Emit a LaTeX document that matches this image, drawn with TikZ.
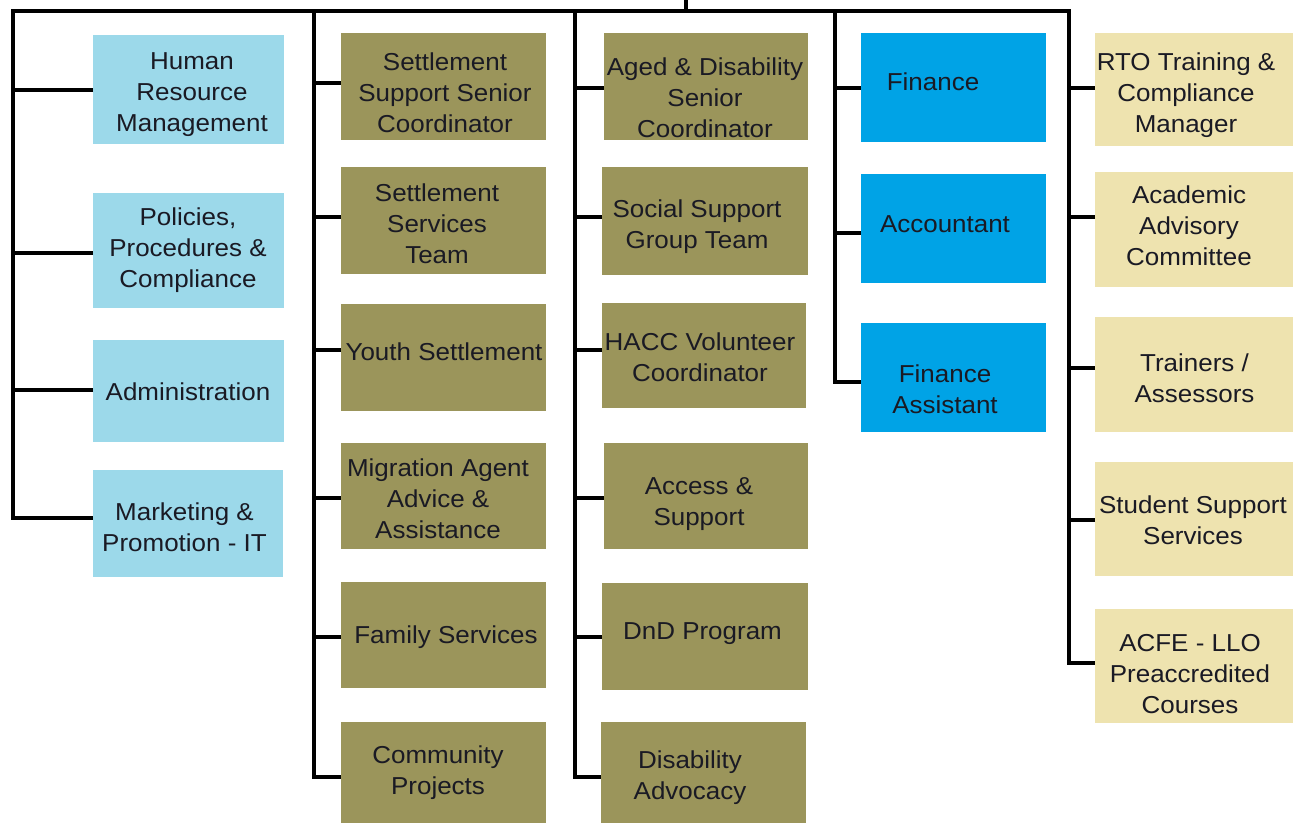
\documentclass[tikz,border=0pt]{standalone}
\usepackage{fontspec}
\setmainfont{Liberation Sans}[FakeStretch=1.06]
\definecolor{cLB}{HTML}{9CD9EA}
\definecolor{cOL}{HTML}{9B955B}
\definecolor{cBL}{HTML}{00A3E6}
\definecolor{cBE}{HTML}{EEE3AF}
\definecolor{cTX}{HTML}{1A1A24}
\newcommand\hbranch[3]{\draw[conn] ([yshift=#3pt]#1.west) coordinate (b-#1) -- (b-#1 -| #2);}
\begin{document}
\begin{tikzpicture}[x=1pt,y=-1pt,
 box/.style={rectangle, draw=none, inner sep=0pt, outer sep=0pt},
 lb/.style={box, fill=cLB, minimum width=191pt},
 ol/.style={box, fill=cOL, minimum width=205pt},
 bl/.style={box, fill=cBL, minimum width=185pt},
 be/.style={box, fill=cBE, minimum width=198pt},
 txt/.style={font=\fontsize{24.5}{31}\selectfont, align=center, text=cTX, inner sep=0pt, yshift=-2pt},
 conn/.style={line width=4pt, draw=black, line join=miter}]
\useasboundingbox[fill=white] (0,0) rectangle (1301,823);

% column 1
\node[lb, minimum height=109pt] (hrm) at (188.5,89.5) {};
\node[lb, minimum height=115pt] (pol) at (188.5,250.5) {};
\node[lb, minimum height=102pt] (adm) at (188.5,391) {};
\node[lb, minimum width=190pt, minimum height=107pt] (mkt) at (188,523.5) {};
% column 2
\node[ol, minimum height=107pt] (sssc) at (443.5,86.5) {};
\node[ol, minimum height=107pt] (sst) at (443.5,220.5) {};
\node[ol, minimum height=107pt] (ys) at (443.5,357.5) {};
\node[ol, minimum height=106pt] (mig) at (443.5,496) {};
\node[ol, minimum height=106pt] (fam) at (443.5,635) {};
\node[ol, minimum height=101pt] (com) at (443.5,772.5) {};
% column 3
\node[ol, minimum width=204pt, minimum height=107pt] (ads) at (706,86.5) {};
\node[ol, minimum width=206pt, minimum height=108pt] (ssg) at (705,221) {};
\node[ol, minimum width=204pt, minimum height=105pt] (hacc) at (704,355.5) {};
\node[ol, minimum width=204pt, minimum height=106pt] (acc) at (706,496) {};
\node[ol, minimum width=206pt, minimum height=107pt] (dnd) at (705,636.5) {};
\node[ol, minimum width=205pt, minimum height=101pt] (dis) at (703.5,772.5) {};
% column 4
\node[bl, minimum height=109pt] (fin) at (953.5,87.5) {};
\node[bl, minimum height=109pt] (acct) at (953.5,228.5) {};
\node[bl, minimum height=109pt] (fa) at (953.5,377.5) {};
% column 5
\node[be, minimum height=113pt] (rto) at (1194,89.5) {};
\node[be, minimum height=115pt] (aac) at (1194,229.5) {};
\node[be, minimum height=115pt] (trn) at (1194,374.5) {};
\node[be, minimum height=114pt] (sss) at (1194,519) {};
\node[be, minimum height=114pt] (acfe) at (1194,666) {};

% trunks
\coordinate (root) at (686,0);
\coordinate (c1) at (13,11);
\coordinate (c2) at (314,11);
\coordinate (c3) at (575,11);
\coordinate (c4) at (835,11);
\coordinate (c5) at (1069,11);
\draw[conn] ([yshift=5.5pt]mkt.west) -| (c1) -- (c5) |- ([yshift=3pt]acfe.west);
\draw[conn] (root) -- (root |- c1);
\draw[conn] (c2) |- ([yshift=-4.5pt]com.west);
\draw[conn] (c3) |- ([yshift=-4.5pt]dis.west);
\draw[conn] (c4) |- ([yshift=-4.5pt]fa.west);

% branches
\hbranch{hrm}{c1}{0}
\hbranch{pol}{c1}{-2.5}
\hbranch{adm}{c1}{1}
\hbranch{sssc}{c2}{3.5}
\hbranch{sst}{c2}{3.5}
\hbranch{ys}{c2}{7.5}
\hbranch{mig}{c2}{-2}
\hbranch{fam}{c2}{-2}
\hbranch{ads}{c3}{-1.5}
\hbranch{ssg}{c3}{4}
\hbranch{hacc}{c3}{5.5}
\hbranch{acc}{c3}{-2}
\hbranch{dnd}{c3}{0}
\hbranch{fin}{c4}{0}
\hbranch{acct}{c4}{-4.5}
\hbranch{rto}{c5}{1.5}
\hbranch{aac}{c5}{12.5}
\hbranch{trn}{c5}{6.5}
\hbranch{sss}{c5}{-1}

% texts
\node[txt] (hrm-t) at (192,93) {Human\\Resource\\Management};
\node[txt] (pol-t) at (188,248) {Policies,\\Procedures \&\\Compliance};
\node[txt] (adm-t) at (188,390) {Administration};
\node[txt] (mkt-t) at (184.5,525) {Marketing \&\\Promotion - IT};
\node[txt] (sssc-t) at (445,91) {Settlement\\Support Senior\\Coordinator};
\node[txt] (sst-t) at (437,222) {Settlement\\Services\\Team};
\node[txt] (ys-t) at (444,350) {Youth Settlement};
\node[txt] (mig-t) at (438,497) {Migration Agent\\Advice \&\\Assistance};
\node[txt] (fam-t) at (446,635) {Family Services};
\node[txt] (com-t) at (438,771) {Community\\Projects};
\node[txt] (ads-t) at (705,96) {Aged \& Disability\\Senior\\Coordinator};
\node[txt] (ssg-t) at (697,225) {Social Support\\Group Team};
\node[txt] (hacc-t) at (700,355) {HACC Volunteer\\Coordinator};
\node[txt] (acc-t) at (699,502) {Access \&\\Support};
\node[txt] (dnd-t) at (702.5,632) {DnD Program};
\node[txt] (dis-t) at (690,776) {Disability\\Advocacy};
\node[txt] (fin-t) at (933,80) {Finance};
\node[txt] (acct-t) at (945,222) {Accountant};
\node[txt] (fa-t) at (945,387) {Finance\\Assistant};
\node[txt] (rto-t) at (1186,93) {RTO Training \&\\Compliance\\Manager};
\node[txt] (aac-t) at (1189,224) {Academic\\Advisory\\Committee};
\node[txt] (trn-t) at (1194.5,376) {Trainers /\\Assessors};
\node[txt] (sss-t) at (1193,518) {Student Support\\Services};
\node[txt] (acfe-t) at (1190,672) {ACFE - LLO\\Preaccredited\\Courses};
\end{tikzpicture}
\end{document}
